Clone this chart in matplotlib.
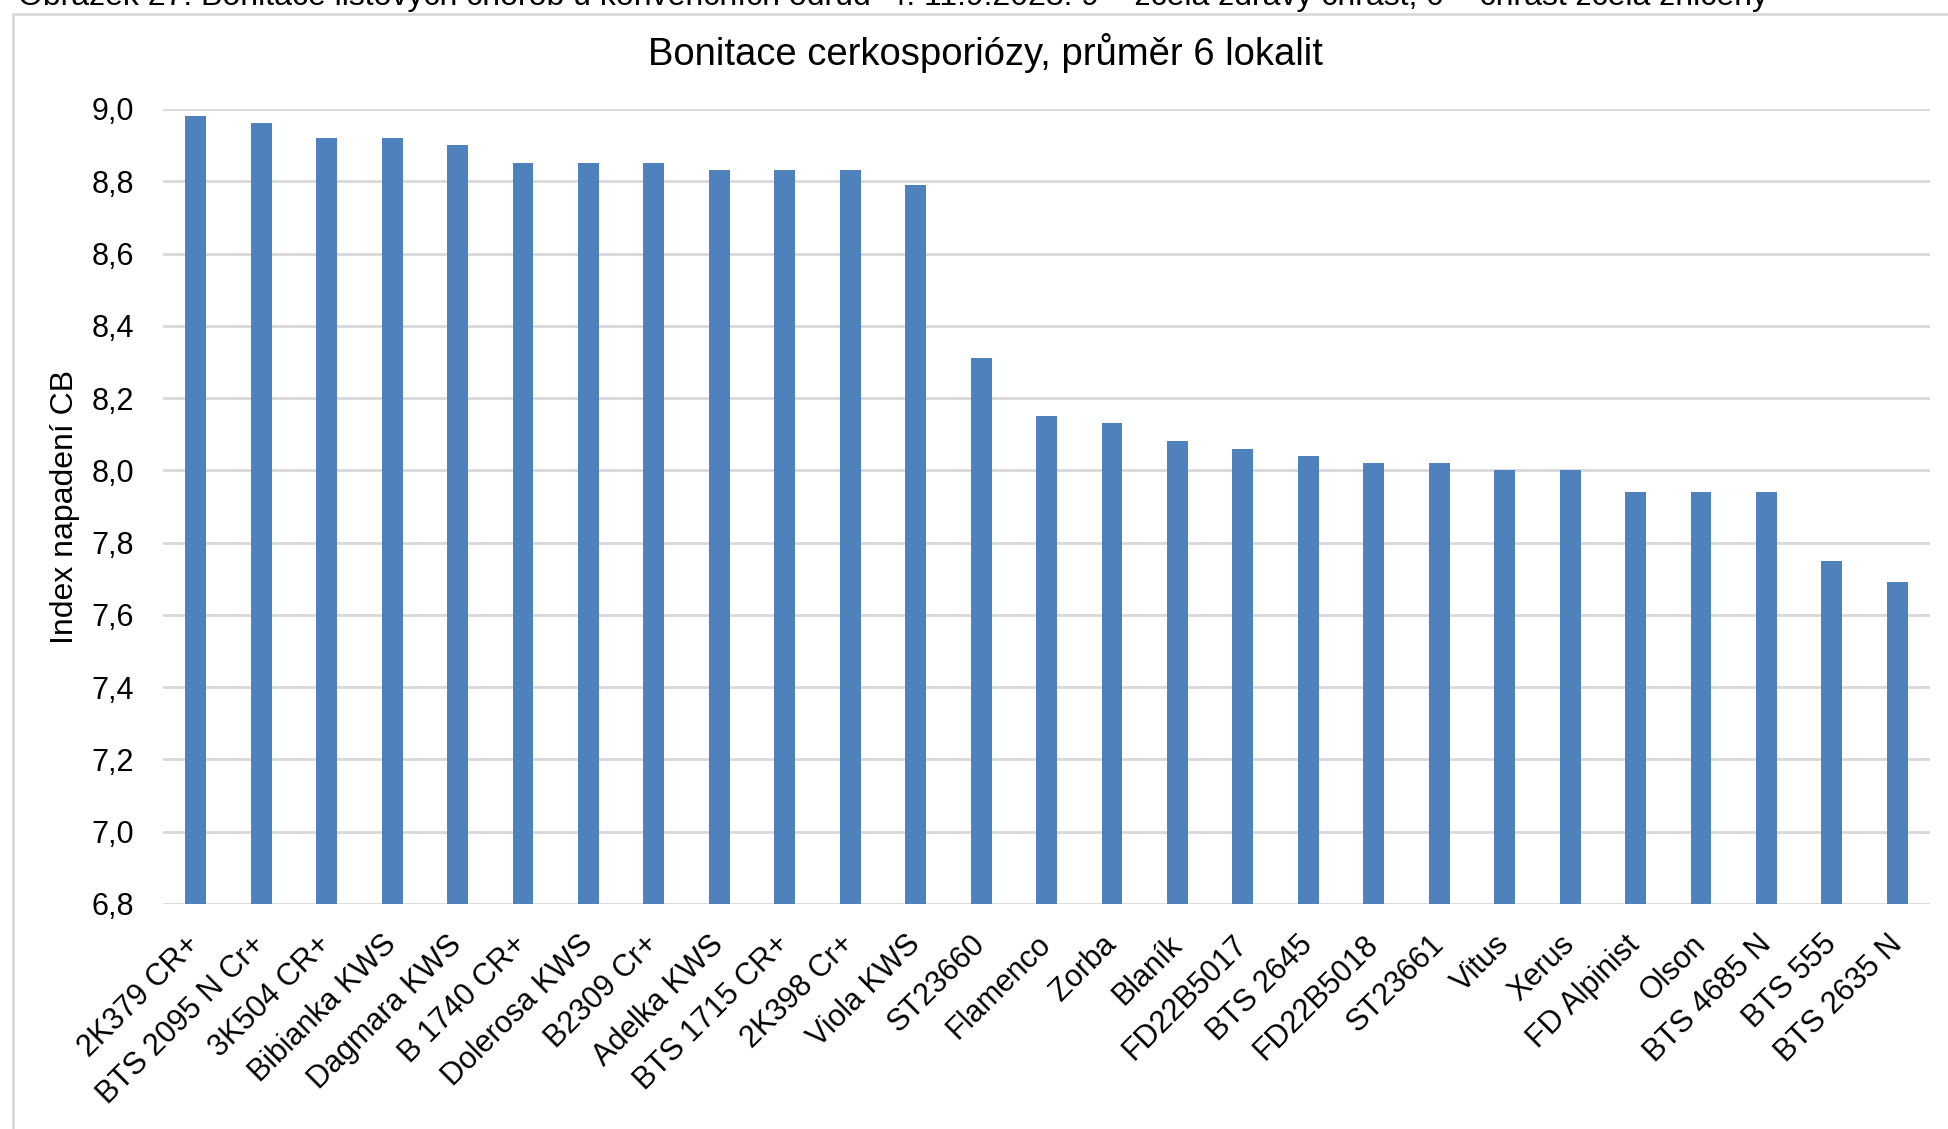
import matplotlib
matplotlib.use("Agg")
import matplotlib.pyplot as plt
from matplotlib.patches import Rectangle

plt.rcParams['font.family'] = ['Liberation Sans', 'DejaVu Sans']

# odrudy a prumerny index napadeni (6 lokalit)
odrudy = ['2K379 CR+', 'BTS 2095 N Cr+', '3K504 CR+', 'Bibianka KWS', 'Dagmara KWS',
          'B 1740 CR+', 'Dolerosa KWS', 'B2309 Cr+', 'Adelka KWS', 'BTS 1715 CR+',
          '2K398 Cr+', 'Viola KWS', 'ST23660', 'Flamenco', 'Zorba', 'Blaník',
          'FD22B5017', 'BTS 2645', 'FD22B5018', 'ST23661', 'Vitus', 'Xerus',
          'FD Alpinist', 'Olson', 'BTS 4685 N', 'BTS 555', 'BTS 2635 N']
index_cb = [8.98, 8.96, 8.92, 8.92, 8.90,
            8.85, 8.85, 8.85, 8.83, 8.83,
            8.83, 8.79, 8.31, 8.15, 8.13, 8.08,
            8.06, 8.04, 8.02, 8.02, 8.00, 8.00,
            7.94, 7.94, 7.94, 7.75, 7.69]
yticks = [6.8, 7.0, 7.2, 7.4, 7.6, 7.8, 8.0, 8.2, 8.4, 8.6, 8.8, 9.0]

fig = plt.figure(figsize=(19.48, 11.29), dpi=100)

# oriznuty popisek obrazku nahore a ramecek grafu
fig.text(0.009, 0.996, 'Obrázek 27: Bonitace listových chorob u konvenčních odrůd  4. 11.9.2023: 9 – zcela zdravý chrást, 0 – chrást zcela zničený',
         fontsize=23, va='baseline', ha='left')
fig.patches.append(Rectangle((0.0068, -0.1), 1.1, 1.0877, transform=fig.transFigure,
                             fill=False, edgecolor='#D9D9D9', linewidth=2))

ax = fig.add_axes([0.0837, 0.1993, 0.9071, 0.7042])
x = range(len(odrudy))
ax.bar(x, [v - 6.8 for v in index_cb], bottom=6.8, width=0.32, color='#4F81BD', zorder=3)

ax.set_ylim(6.8, 9.0)
ax.set_xlim(-0.5, len(odrudy) - 0.5)
ax.set_yticks(yticks)
ax.set_yticklabels([f'{t:.1f}'.replace('.', ',') for t in yticks], fontsize=22)
ax.set_xticks(list(x))
ax.set_xticklabels(odrudy, rotation=45, ha='right', va='center', rotation_mode='anchor', fontsize=22)
ax.tick_params(axis='both', length=0)
ax.tick_params(axis='x', pad=26)
ax.tick_params(axis='y', pad=21)
ax.grid(axis='y', color='#D9D9D9', linewidth=2, zorder=0)
for s in ax.spines.values():
    s.set_visible(False)

fig.text(0.0334, 0.551, 'Index napadení CB', fontsize=23, rotation=90, ha='center', va='center')
fig.text(0.506, 0.953, 'Bonitace cerkosporiózy, průměr 6 lokalit', fontsize=27.5, ha='center', va='center')

fig.savefig('out.png', dpi=100)
